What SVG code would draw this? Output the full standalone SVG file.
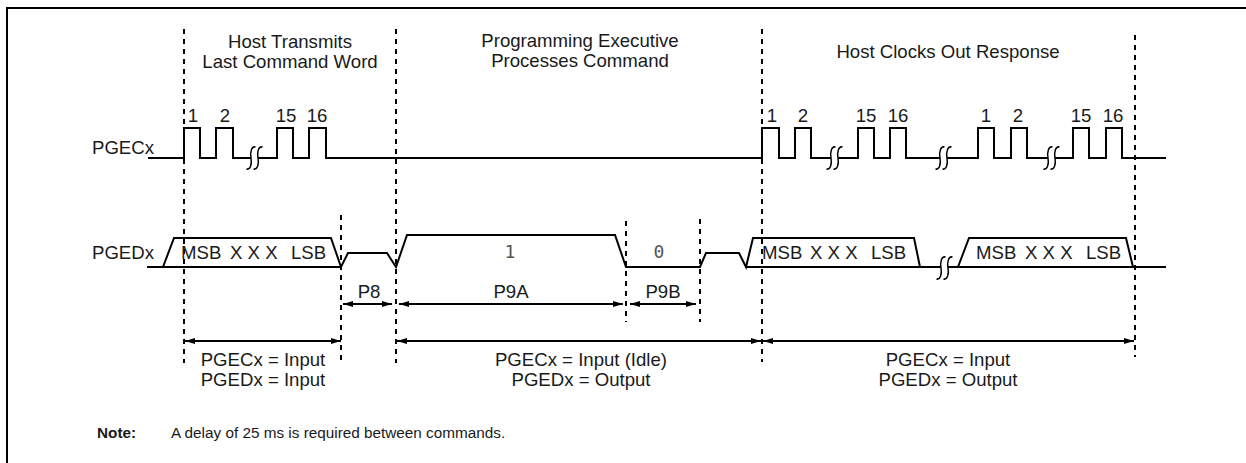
<svg xmlns="http://www.w3.org/2000/svg" width="1246" height="463" viewBox="0 0 1246 463">
<style>
.t{font-family:"Liberation Sans",Arial,sans-serif;font-size:18.6px;fill:#1a1a1a}
.c{text-anchor:middle}
.b{font-weight:bold}
.s{font-size:15.3px}
.w{fill:none;stroke:#000;stroke-width:2;stroke-linejoin:miter}
.d{fill:none;stroke:#000;stroke-width:2;stroke-dasharray:5 5}
.a{fill:none;stroke:#000;stroke-width:2;marker-start:url(#ah);marker-end:url(#ah)}
.m{font-family:"DejaVu Sans Mono",monospace;font-size:18px;fill:#555;text-anchor:middle}
</style>
<defs>
<marker id="ah" viewBox="0 0 10 6" refX="10" refY="3" markerWidth="10" markerHeight="6" markerUnits="userSpaceOnUse" orient="auto-start-reverse"><path d="M0,0 L10,3 L0,6 z" fill="#000"/></marker>
<path id="sq" d="M4.5,-11 C0.5,-12 -1,-6 0,0 C1,6 -0.5,12 -4.5,11" fill="none" stroke="#000" stroke-width="1.5"/>
<g id="brk"><use href="#sq"/><use href="#sq" x="7"/></g>
</defs>
<rect width="1246" height="463" fill="#fff"/>
<g id="frame"><path d="M7,463 V8 H1246" fill="none" stroke="#000" stroke-width="2"/></g>

<g id="phase-markers">
<line class="d" x1="184" y1="29" x2="184" y2="363"/>
<line class="d" x1="396" y1="29" x2="396" y2="363"/>
<line class="d" x1="762" y1="29" x2="762" y2="362"/>
<line class="d" x1="1135" y1="35" x2="1135" y2="357"/>
<line class="d" x1="341" y1="215" x2="341" y2="363"/>
<line class="d" x1="626" y1="221" x2="626" y2="322"/>
<line class="d" x1="700" y1="219" x2="700" y2="322"/>
</g>

<g id="titles">
<text class="t c" x="290" y="48">Host Transmits</text>
<text class="t c" x="290" y="68">Last Command Word</text>
<text class="t c" x="580" y="47">Programming Executive</text>
<text class="t c" x="580" y="67">Processes Command</text>
<text class="t c" x="948" y="58">Host Clocks Out Response</text>
</g>

<g id="pgecx">
<text class="t" x="92" y="154">PGECx</text>
<path class="w" d="M148,158 H184 V128 H200 V158 H216 V128 H233 V158 H251 M258,158 H277 V128 H293 V158 H309 V128 H326 V158 H762 V128 H779 V158 H795 V128 H811 V158 H831 M838,158 H858 V128 H874 V158 H890 V128 H906 V158 H940 M947,158 H978 V128 H994 V158 H1011 V128 H1027 V158 H1048 M1055,158 H1073 V128 H1089 V158 H1106 V128 H1122 V158 H1166"/>
<use href="#brk" x="251" y="158"/>
<use href="#brk" x="831" y="158"/>
<use href="#brk" x="940" y="158"/>
<use href="#brk" x="1048" y="158"/>
<g>
<text class="t c" x="193" y="122">1</text>
<text class="t c" x="225" y="122">2</text>
<text class="t c" x="286" y="122">15</text>
<text class="t c" x="317" y="122">16</text>
<text class="t c" x="772" y="122">1</text>
<text class="t c" x="803" y="122">2</text>
<text class="t c" x="866" y="122">15</text>
<text class="t c" x="898" y="122">16</text>
<text class="t c" x="986" y="122">1</text>
<text class="t c" x="1018" y="122">2</text>
<text class="t c" x="1081" y="122">15</text>
<text class="t c" x="1113" y="122">16</text>
</g>
</g>

<g id="pgedx">
<text class="t" x="92" y="259">PGEDx</text>
<path class="w" d="M147,267 H341 M163,267 L174,238 H331 L341,267 L348,253 H387 L396,267 L407,235 H615 L626,267 H700 L706,253 H739 L746,267 L753,238 H914 L920,267 M746,267 H941 M948,267 H1166 M958,267 L969,238 H1126 L1133,267"/>
<use href="#brk" x="941" y="268"/>
<text class="t"><tspan x="181" y="259">MSB </tspan><tspan x="230" y="259">X X X </tspan><tspan x="291" y="259">LSB</tspan></text>
<text class="m" x="510" y="258">1</text>
<text class="m" x="659" y="258">0</text>
<text class="t"><tspan x="762" y="259">MSB </tspan><tspan x="810" y="259">X X X </tspan><tspan x="871" y="259">LSB</tspan></text>
<text class="t"><tspan x="976" y="259">MSB </tspan><tspan x="1025" y="259">X X X </tspan><tspan x="1086" y="259">LSB</tspan></text>
</g>

<g id="connectors">
<line class="a" x1="343" y1="304" x2="392" y2="304"/>
<line class="a" x1="399" y1="304" x2="623" y2="304"/>
<line class="a" x1="630" y1="304" x2="696" y2="304"/>
<line class="a" x1="185" y1="341" x2="341" y2="341"/>
<line class="a" x1="397" y1="341" x2="761" y2="341"/>
<line class="a" x1="763" y1="341" x2="1134" y2="341"/>
</g>

<g id="timing-labels">
<text class="t c" x="369" y="298">P8</text>
<text class="t c" x="511" y="298">P9A</text>
<text class="t c" x="663" y="298">P9B</text>
</g>

<g id="pin-states">
<text class="t c" x="263" y="366">PGECx = Input</text>
<text class="t c" x="263" y="386">PGEDx = Input</text>
<text class="t c" x="581" y="366">PGECx = Input (Idle)</text>
<text class="t c" x="581" y="386">PGEDx = Output</text>
<text class="t c" x="948" y="366">PGECx = Input</text>
<text class="t c" x="948" y="386">PGEDx = Output</text>
</g>

<g id="note">
<text class="t s b" x="97" y="438">Note:</text>
<text class="t s" x="171" y="438">A delay of 25 ms is required between commands.</text>
</g>
</svg>
